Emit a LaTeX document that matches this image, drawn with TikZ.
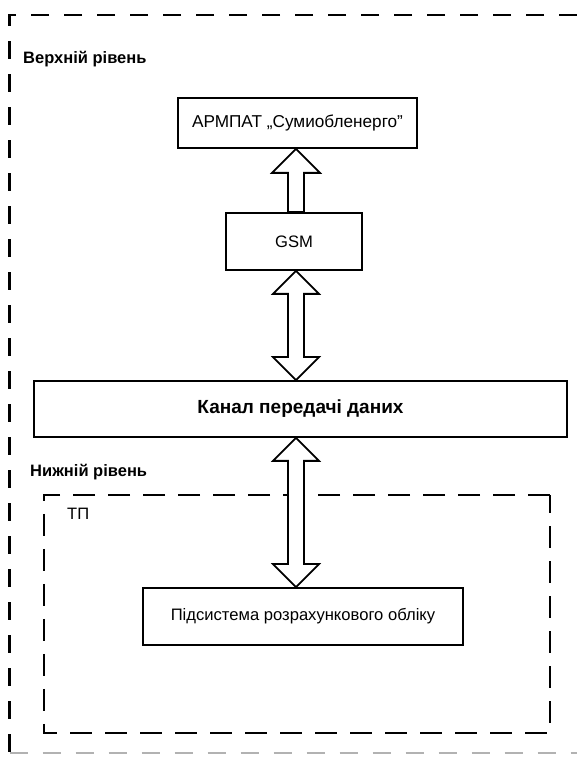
\documentclass[tikz,border=0pt]{standalone}
\usepackage{fontspec}
\setmainfont{Liberation Sans}
\usetikzlibrary{calc}
\tikzset{
  box/.style={draw, line width=1.8pt, fill=white, inner sep=0pt, font=\fontsize{16.6}{19}\selectfont},
  boldlabel/.style={anchor=west, inner sep=0pt, font=\fontsize{16.5}{19}\selectfont\bfseries},
  plainlabel/.style={anchor=west, inner sep=0pt, font=\fontsize{16.5}{19}\selectfont},
  outerframe/.style={line width=2.4pt, dash pattern=on 18pt off 15pt},
  innerframe/.style={line width=2.4pt, dash pattern=on 22pt off 13pt},
  barrow/.style={draw, line width=1.8pt, fill=white, line join=miter}
}
\begin{document}
\begin{tikzpicture}[x=1pt,y=1pt]
\useasboundingbox (0,0) rectangle (577,758);
\clip (0,0) rectangle (577,758);
% outer frame
\draw[outerframe] (577,743) -- (9.5,743) -- (9.5,6);
\draw[line width=1.4pt, black!30, dash pattern=on 18pt off 15pt] (9.5,5) -- (577,5);
% inner frame
\draw[innerframe] (550,263) -- (44,263) -- (44,25) -- (550,25) -- cycle;
% labels
\node[boldlabel] (top) at (23,699) {Верхній рівень};
\node[boldlabel] (bottom) at (30,286) {Нижній рівень};
\node[plainlabel] (tp) at (67,244) {ТП};
% boxes
\node[box, minimum width=239pt, minimum height=50pt, font=\fontsize{17.2}{20}\selectfont] (arm) at (297.5,635) {АРМПАТ „Сумиобленерго”};
\node[box, minimum width=136pt, minimum height=57pt] (gsm) at (294,516.5) {GSM};
\node[box, minimum width=533pt, minimum height=56pt, font=\fontsize{19}{22}\selectfont\bfseries] (kanal) at (300.5,349) {Канал передачі даних};
\node[box, minimum width=320pt, minimum height=57pt] (pids) at (303,141.5) {Підсистема розрахункового обліку};
% arrows
\coordinate (ax) at (296,0);
\coordinate (t1) at (arm.south -| ax);
\coordinate (b1) at (gsm.north -| ax);
\draw[barrow] (t1) -- ($(t1)+(24,-24)$) -- ($(t1)+(8,-24)$) -- ($(b1)+(8,0)$) -- ($(b1)+(-8,0)$) -- ($(t1)+(-8,-24)$) -- ($(t1)+(-24,-24)$) -- cycle;
\coordinate (t2) at (gsm.south -| ax);
\coordinate (b2) at (kanal.north -| ax);
\draw[barrow] (t2) -- ($(t2)+(23,-23)$) -- ($(t2)+(8,-23)$) -- ($(b2)+(8,23)$) -- ($(b2)+(23,23)$) -- (b2) -- ($(b2)+(-23,23)$) -- ($(b2)+(-8,23)$) -- ($(t2)+(-8,-23)$) -- ($(t2)+(-23,-23)$) -- cycle;
\coordinate (t3) at (kanal.south -| ax);
\coordinate (b3) at (pids.north -| ax);
\draw[barrow] (t3) -- ($(t3)+(23,-23)$) -- ($(t3)+(8,-23)$) -- ($(b3)+(8,23)$) -- ($(b3)+(23,23)$) -- (b3) -- ($(b3)+(-23,23)$) -- ($(b3)+(-8,23)$) -- ($(t3)+(-8,-23)$) -- ($(t3)+(-23,-23)$) -- cycle;
\end{tikzpicture}
\end{document}
